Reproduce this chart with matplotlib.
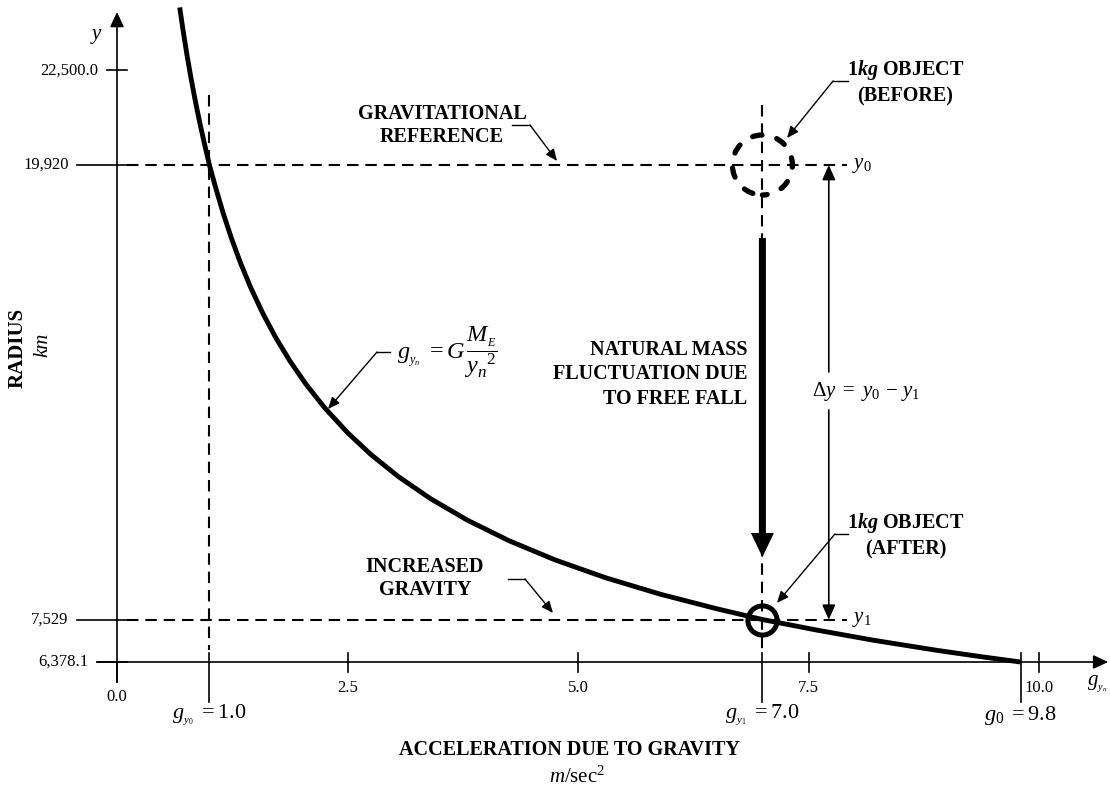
import matplotlib
matplotlib.use("Agg")
import matplotlib.pyplot as plt
from matplotlib.patches import Ellipse, FancyArrow

plt.rcParams['font.family'] = 'Liberation Serif'
plt.rcParams['mathtext.fontset'] = 'custom'
plt.rcParams['mathtext.rm'] = 'Liberation Serif'
plt.rcParams['mathtext.it'] = 'Liberation Serif:italic'
plt.rcParams['mathtext.bf'] = 'Liberation Serif:bold'
plt.rcParams['mathtext.bfit'] = 'Liberation Serif:bold:italic'

# curve (g in m/sec^2, radius in km)
g_curve = [0.68, 0.72, 0.76, 0.80, 0.85, 0.90, 0.95, 1.0, 1.07, 1.15, 1.24,
           1.34, 1.45, 1.58, 1.72, 1.88, 2.05, 2.25, 2.5, 2.75, 3.05, 3.4,
           3.8, 4.25, 4.75, 5.3, 5.9, 6.5, 7.0, 7.6, 8.2, 8.9, 9.4, 9.8]
radius_curve = [24213, 23531, 22903, 22323, 21657, 21046, 20485, 19940, 19302,
                18619, 17931, 17248, 16581, 15885, 15224, 14562, 13945, 13311,
                12628, 12040, 11433, 10829, 10243, 9685, 9161, 8673, 8220,
                7832, 7535, 7243, 6973, 6693, 6513, 6378.1]

y_ticks = [6378.1, 7529, 19920, 22500]
y_tick_labels = ['6,378.1', '7,529', '19,920', '22,500.0']
y_tick_left = [-0.217, -0.434, -0.434, -0.11]
x_ticks = [2.5, 5.0, 7.5, 10.0]
x_tick_labels = ['2.5', '5.0', '7.5', '10.0']
g_marks = [1.0, 7.0, 9.8]
g_mark_labels = [r'$g_{_{y_0}}\ = 1.0$', r'$g_{_{y_1}}\ = 7.0$', r'$g_0\ = 9.8$']

y0 = 19920      # before
y1 = 7529       # after
g_obj = 7.0
g_ref = 1.0

fig = plt.figure(figsize=(11.1, 7.89), dpi=100)
ax = fig.add_axes([0, 0, 1, 1])
ax.set_xlim(-1.269, 10.77)
ax.set_ylim(2917.6, 24416)
ax.axis('off')

k = 'black'
dash = (0, (5.5, 3.3))

def arrow(xy, xytext, lw=1.0, hl=0.7, hw=0.3):
    ax.annotate('', xy=xy, xytext=xytext,
                arrowprops=dict(arrowstyle=f'-|>,head_length={hl},head_width={hw}',
                                lw=lw, color=k, shrinkA=0, shrinkB=0))

# axes with arrows
arrow((0, 24089), (0, 5833), lw=1.2, hl=0.9, hw=0.42)
arrow((10.75, 6378.1), (-0.217, 6378.1), lw=1.2, hl=0.9, hw=0.42)

# y ticks
for v, lab, left in zip(y_ticks, y_tick_labels, y_tick_left):
    ax.plot([left, 0.108], [v, v], color=k, lw=1.2)
    ax.text(left - 0.09, v, lab, ha='right', va='center', fontsize=12)

# x ticks
ax.plot([0, 0], [6378.1, 5833], color=k, lw=1.2)
ax.text(0, 5424, '0.0', ha='center', va='center', fontsize=12)
for v, lab in zip(x_ticks, x_tick_labels):
    ax.plot([v, v], [6623, 6106], color=k, lw=1.2)
    ax.text(v, 5670, lab, ha='center', va='center', fontsize=12)

for v, lab in zip(g_marks, g_mark_labels):
    ax.plot([v, v], [6623, 5288], color=k, lw=1.2)
    ax.text(v, 4930, lab, ha='center', va='center', fontsize=16)

# dashed guides
ax.plot([0.11, 7.92], [y0, y0], color=k, lw=1.5, ls=dash)
ax.plot([0.11, 7.92], [y1, y1], color=k, lw=1.5, ls=dash)
ax.plot([g_ref, g_ref], [21828, 6705], color=k, lw=1.5, ls=dash)
ax.plot([g_obj, g_obj], [21555, 6705], color=k, lw=1.5, ls=dash)

# gravity curve
ax.plot(g_curve, radius_curve, color=k, lw=3.5, solid_capstyle='butt',
        solid_joinstyle='round', zorder=3)

# objects
ax.add_patch(Ellipse((g_obj, y0), width=2 * 30 / 92.2, height=2 * 30 * 27.248,
                     fill=False, ec=k, lw=3.8, ls=(0.9, (1.8, 2.91)),
                     capstyle='round', zorder=4))
ax.plot(g_obj, y1, 'o', ms=21, mfc='none', mec=k, mew=3.6, zorder=5)

# free fall arrow
ax.add_patch(FancyArrow(g_obj, 17931, 0, 9239 - 17931, width=0.076,
                        head_width=0.25, head_length=654,
                        length_includes_head=True, color=k, lw=0, zorder=4))

# delta y
arrow((7.72, y0), (7.72, 14280), lw=1.2, hl=0.9, hw=0.4)
arrow((7.72, y1), (7.72, 13245), lw=1.2, hl=0.9, hw=0.4)
ax.text(7.54, 13762, r'$\Delta y\ =\ y_0\, -\, y_1$', ha='left', va='center', fontsize=15)
ax.text(7.97, y0, r'$y_0$', ha='left', va='center', fontsize=15)
ax.text(7.97, y1, r'$y_1$', ha='left', va='center', fontsize=15)

# callouts
def callout(x1, x2, y, tip):
    ax.plot([x1, x2], [y, y], color=k, lw=1.0)
    arrow(tip, (x2, y) if tip[0] > x2 else (x1, y))

callout(4.284, 4.479, 21010, (4.772, 20029))
ax.text(3.525, 21010, 'GRAVITATIONAL\nREFERENCE', ha='center', va='center',
        fontsize=14.5, fontweight='bold', linespacing=1.2)

callout(4.241, 4.425, 8640, (4.729, 7713))
ax.text(3.34, 8640, 'INCREASED\nGRAVITY', ha='center', va='center',
        fontsize=14.5, fontweight='bold', linespacing=1.2)

callout(2.82, 2.961, 14825, (2.289, 13272))
ax.text(3.037, 14825, r'$g_{_{y_n}}\ =G\,\dfrac{M_{_E}}{y_n^{\ \ 2}}$', ha='left',
        va='center', fontsize=17.5)

callout(7.766, 7.928, 22209, (7.267, 20656))
ax.text(8.55, 22182, '1$\\mathbfit{kg}$ OBJECT\n(BEFORE)', ha='center', va='center',
        fontsize=14.5, fontweight='bold', linespacing=1.3)

callout(7.787, 7.928, 9866, (7.158, 7986))
ax.text(8.55, 9839, '1$\\mathbfit{kg}$ OBJECT\n(AFTER)', ha='center', va='center',
        fontsize=14.5, fontweight='bold', linespacing=1.3)

ax.text(6.833, 14225, 'NATURAL MASS\nFLUCTUATION DUE\nTO FREE FALL', ha='right',
        va='center', fontsize=14.5, fontweight='bold', linespacing=1.3)

# axis titles
ax.text(-0.217, 23408, '$y$', ha='center', va='center', fontsize=15)
ax.text(10.52, 5779, r'$g_{_{y_n}}$', ha='left', va='center', fontsize=15)
ax.text(-1.074, 14934, 'RADIUS', rotation=90, ha='center', va='center',
        fontsize=15, fontweight='bold')
ax.text(-0.803, 15016, 'km', rotation=90, ha='center', va='center',
        fontsize=15, style='italic')
ax.text(4.913, 3980, 'ACCELERATION DUE TO GRAVITY', ha='center', va='center',
        fontsize=14.5, fontweight='bold')
ax.text(4.99, 3245, r'$m/\mathrm{sec}^2$', ha='center', va='center', fontsize=15)

fig.savefig('out.png', dpi=100)
